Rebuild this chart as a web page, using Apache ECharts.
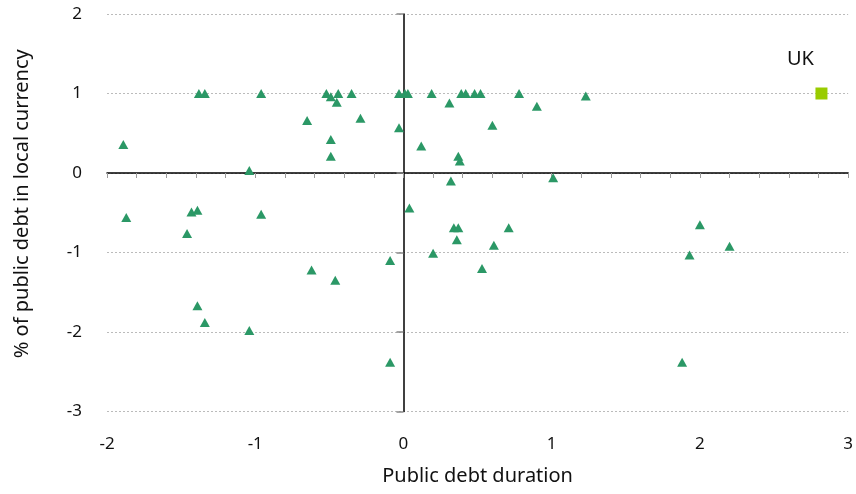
<!DOCTYPE html>
<html>
<head>
<meta charset="utf-8">
<script src="https://cdn.jsdelivr.net/npm/echarts@6/dist/echarts.min.js"></script>
<style>html,body{margin:0;padding:0;background:#fff;overflow:hidden}#c{width:856px;height:494px}</style>
</head>
<body>
<div id="c"></div>
<script>
var xTicks = [-2, -1, 0, 1, 2, 3];
var yTicks = [-3, -2, -1, 0, 1, 2];
var durations = [-1.89,-1.38,-1.34,-0.96,-0.52,-0.49,-0.44,-0.45,-0.35,-0.65,-0.29,-0.49,-0.49,-1.04,-0.03,-0.03,0.01,0.03,0.19,0.31,0.39,0.42,0.48,0.52,0.78,0.90,1.23,0.60,0.12,0.37,0.38,0.32,1.01,-1.87,-1.43,-1.39,-1.46,-0.96,0.04,-0.09,-0.62,-0.46,-1.39,-1.34,-1.04,-0.09,0.34,0.37,0.36,0.20,0.71,0.61,0.53,2.00,2.20,1.93,1.88];
var localShares = [0.36,1.0,1.0,1.0,1.0,0.96,1.0,0.89,1.0,0.66,0.69,0.42,0.21,0.03,0.57,1.0,1.0,1.0,1.0,0.88,1.0,1.0,1.0,1.0,1.0,0.84,0.97,0.60,0.34,0.21,0.15,-0.10,-0.06,-0.56,-0.49,-0.47,-0.76,-0.52,-0.44,-1.10,-1.22,-1.35,-1.67,-1.88,-1.98,-2.38,-0.69,-0.69,-0.84,-1.01,-0.69,-0.91,-1.20,-0.65,-0.92,-1.03,-2.38];
var ukName = 'UK';
var ukDuration = [2.82];
var ukShare = [1.0];

var others = durations.map(function (d, i) { return [d, localShares[i]]; });
var uk = ukDuration.map(function (d, i) { return [d, ukShare[i]]; });
var FONT = 'Noto Sans';

var chart = echarts.init(document.getElementById('c'));
chart.setOption({
  animation: false,
  textStyle: { fontFamily: FONT },
  grid: { left: 107, right: 4, top: 14, bottom: 82.5 },
  xAxis: [
    { type: 'value', min: xTicks[0], max: xTicks[xTicks.length - 1], interval: 1, position: 'bottom',
      axisLine: { show: false, onZero: false }, axisTick: { show: false }, splitLine: { show: false },
      axisLabel: { fontSize: 17, color: '#111', margin: 24, fontFamily: FONT },
      name: 'Public debt duration', nameLocation: 'middle', nameGap: 55,
      nameTextStyle: { fontSize: 20, color: '#111', fontFamily: FONT } },
    { type: 'value', min: xTicks[0], max: xTicks[xTicks.length - 1], interval: 0.2, position: 'top',
      axisLine: { show: true, onZero: true, onZeroAxisIndex: 0, lineStyle: { color: '#000', width: 1.5 } },
      axisTick: { show: true, inside: true, length: 5, lineStyle: { color: '#999', width: 1 } },
      axisLabel: { show: false }, splitLine: { show: false } }
  ],
  yAxis: [
    { type: 'value', min: yTicks[0], max: yTicks[yTicks.length - 1], interval: 1, position: 'left',
      axisLine: { show: false, onZero: false }, axisTick: { show: false },
      splitLine: { show: true, lineStyle: { color: '#bbb', width: 1, type: [2, 2] } },
      axisLabel: { fontSize: 17, color: '#111', margin: 25, fontFamily: FONT },
      name: '% of public debt in local currency', nameLocation: 'middle', nameGap: 75,
      nameTextStyle: { fontSize: 20, color: '#111', fontFamily: FONT, padding: [0, 0, 0, 18] } },
    { type: 'value', min: yTicks[0], max: yTicks[yTicks.length - 1], interval: 1, position: 'right',
      axisLine: { show: true, onZero: true, onZeroAxisIndex: 0, lineStyle: { color: '#000', width: 1.5 } },
      axisTick: { show: true, inside: true, length: 7, lineStyle: { color: '#888', width: 1.5 } },
      axisLabel: { show: false }, splitLine: { show: false } }
  ],
  series: [
    { type: 'scatter', xAxisIndex: 0, yAxisIndex: 0, data: others, symbol: 'triangle', symbolSize: [10, 9],
      itemStyle: { color: '#2b9866', opacity: 1 } },
    { type: 'scatter', xAxisIndex: 0, yAxisIndex: 0, data: uk, symbol: 'rect', symbolSize: 12,
      itemStyle: { color: '#99cc00', opacity: 1 },
      label: { show: true, position: 'top', formatter: ukName, offset: [-21, -13], fontSize: 20, color: '#111', fontFamily: FONT } }
  ]
});
</script>
</body>
</html>
